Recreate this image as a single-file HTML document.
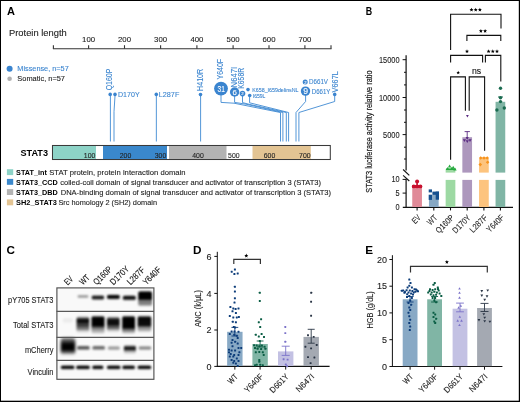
<!DOCTYPE html>
<html><head><meta charset="utf-8"><style>
html,body{margin:0;padding:0;background:#fff;}
svg{display:block;will-change:transform;}
text{font-family:"Liberation Sans", sans-serif;}
</style></head><body>
<svg width="520" height="402" viewBox="0 0 520 402">
<rect x="0" y="0" width="520" height="402" fill="#fff"/>
<text x="7" y="14.7" font-size="11" fill="#000" text-anchor="start" font-weight="bold">A</text>
<text x="9" y="35.8" font-size="9.2" fill="#222" stroke="#222" stroke-width="0.1" text-anchor="start" textLength="57.7" lengthAdjust="spacingAndGlyphs">Protein length</text>
<line x1="52.9" y1="48.7" x2="331.5" y2="48.7" stroke="#333" stroke-width="1.15"/>
<line x1="53.4" y1="45.2" x2="53.4" y2="48.7" stroke="#333" stroke-width="1.1"/>
<line x1="88.6" y1="45.2" x2="88.6" y2="48.7" stroke="#333" stroke-width="1.1"/>
<text x="88.6" y="42.2" font-size="7.8" fill="#222" stroke="#222" stroke-width="0.1" text-anchor="middle" textLength="13.0" lengthAdjust="spacingAndGlyphs">100</text>
<line x1="124.5" y1="45.2" x2="124.5" y2="48.7" stroke="#333" stroke-width="1.1"/>
<text x="124.5" y="42.2" font-size="7.8" fill="#222" stroke="#222" stroke-width="0.1" text-anchor="middle" textLength="13.0" lengthAdjust="spacingAndGlyphs">200</text>
<line x1="160.6" y1="45.2" x2="160.6" y2="48.7" stroke="#333" stroke-width="1.1"/>
<text x="160.6" y="42.2" font-size="7.8" fill="#222" stroke="#222" stroke-width="0.1" text-anchor="middle" textLength="13.0" lengthAdjust="spacingAndGlyphs">300</text>
<line x1="196.9" y1="45.2" x2="196.9" y2="48.7" stroke="#333" stroke-width="1.1"/>
<text x="196.9" y="42.2" font-size="7.8" fill="#222" stroke="#222" stroke-width="0.1" text-anchor="middle" textLength="13.0" lengthAdjust="spacingAndGlyphs">400</text>
<line x1="233.1" y1="45.2" x2="233.1" y2="48.7" stroke="#333" stroke-width="1.1"/>
<text x="233.1" y="42.2" font-size="7.8" fill="#222" stroke="#222" stroke-width="0.1" text-anchor="middle" textLength="13.0" lengthAdjust="spacingAndGlyphs">500</text>
<line x1="269.0" y1="45.2" x2="269.0" y2="48.7" stroke="#333" stroke-width="1.1"/>
<text x="269.0" y="42.2" font-size="7.8" fill="#222" stroke="#222" stroke-width="0.1" text-anchor="middle" textLength="13.0" lengthAdjust="spacingAndGlyphs">600</text>
<line x1="304.9" y1="45.2" x2="304.9" y2="48.7" stroke="#333" stroke-width="1.1"/>
<text x="304.9" y="42.2" font-size="7.8" fill="#222" stroke="#222" stroke-width="0.1" text-anchor="middle" textLength="13.0" lengthAdjust="spacingAndGlyphs">700</text>
<line x1="331.0" y1="45.2" x2="331.0" y2="48.7" stroke="#333" stroke-width="1.1"/>
<circle cx="9.6" cy="68.7" r="3.0" fill="#3a84cf"/>
<circle cx="9.6" cy="78.7" r="2.3" fill="#b0b0b0"/>
<text x="17.3" y="71.0" font-size="7.3" fill="#3a84cf" stroke="#3a84cf" stroke-width="0.1" text-anchor="start" textLength="51.4" lengthAdjust="spacingAndGlyphs">Missense, n=57</text>
<text x="17.3" y="81.2" font-size="7.3" fill="#222" stroke="#222" stroke-width="0.1" text-anchor="start" textLength="47.7" lengthAdjust="spacingAndGlyphs">Somatic, n=57</text>
<polyline points="110.40,94.40 110.40,141.50" fill="none" stroke="#3f8ad2" stroke-width="0.9" stroke-linejoin="miter"/>
<polyline points="115.00,94.40 115.00,96.00 114.00,111.60 114.00,141.50" fill="none" stroke="#3f8ad2" stroke-width="0.9" stroke-linejoin="miter"/>
<polyline points="156.35,94.40 156.35,141.50" fill="none" stroke="#3f8ad2" stroke-width="0.9" stroke-linejoin="miter"/>
<polyline points="200.60,94.60 200.60,141.50" fill="none" stroke="#3f8ad2" stroke-width="0.9" stroke-linejoin="miter"/>
<polyline points="221.00,95.00 221.00,102.40 234.00,103.20 280.50,112.50 280.50,141.50" fill="none" stroke="#3f8ad2" stroke-width="0.9" stroke-linejoin="miter"/>
<polyline points="234.60,96.00 234.60,102.40 246.00,104.20 282.90,112.50 282.90,141.50" fill="none" stroke="#3f8ad2" stroke-width="0.9" stroke-linejoin="miter"/>
<polyline points="242.50,96.00 242.50,102.60 250.00,104.50 286.30,112.50 286.30,141.50" fill="none" stroke="#3f8ad2" stroke-width="0.9" stroke-linejoin="miter"/>
<polyline points="249.60,95.50 249.60,102.80 288.60,112.50 288.60,141.50" fill="none" stroke="#3f8ad2" stroke-width="0.9" stroke-linejoin="miter"/>
<polyline points="305.60,95.00 305.60,101.50 296.00,112.50 296.00,141.50" fill="none" stroke="#3f8ad2" stroke-width="0.9" stroke-linejoin="miter"/>
<polyline points="334.70,94.40 334.70,101.50 298.90,112.50 298.90,141.50" fill="none" stroke="#3f8ad2" stroke-width="0.9" stroke-linejoin="miter"/>
<circle cx="110.2" cy="94.4" r="1.8" fill="#3a84cf"/>
<circle cx="115.0" cy="94.4" r="1.8" fill="#3a84cf"/>
<circle cx="156.3" cy="94.4" r="1.8" fill="#3a84cf"/>
<circle cx="200.5" cy="94.6" r="1.8" fill="#3a84cf"/>
<circle cx="221.0" cy="88.6" r="6.9" fill="#3a84cf"/>
<circle cx="234.6" cy="92.0" r="4.7" fill="#3a84cf"/>
<circle cx="242.5" cy="93.6" r="2.8" fill="#3a84cf"/>
<circle cx="248.0" cy="89.6" r="1.8" fill="#3a84cf"/>
<circle cx="249.7" cy="95.5" r="1.8" fill="#3a84cf"/>
<circle cx="305.2" cy="82.0" r="2.5" fill="#3a84cf"/>
<circle cx="305.5" cy="91.1" r="4.7" fill="#3a84cf"/>
<circle cx="334.7" cy="94.4" r="1.8" fill="#3a84cf"/>
<text x="221.3" y="91.7" font-size="8.4" fill="#fff" stroke="#fff" stroke-width="0.1" text-anchor="middle" textLength="7.4" lengthAdjust="spacingAndGlyphs">31</text>
<text x="234.7" y="95.0" font-size="7.8" fill="#fff" stroke="#fff" stroke-width="0.1" text-anchor="middle">6</text>
<text x="242.5" y="95.3" font-size="4.4" fill="#fff" stroke="#fff" stroke-width="0.1" text-anchor="middle">2</text>
<text x="305.3" y="83.6" font-size="4.2" fill="#fff" stroke="#fff" stroke-width="0.1" text-anchor="middle">2</text>
<text x="305.6" y="94.3" font-size="8.6" fill="#fff" stroke="#fff" stroke-width="0.1" text-anchor="middle">9</text>
<text x="118" y="96.9" font-size="7.8" fill="#3a84cf" stroke="#3a84cf" stroke-width="0.1" text-anchor="start" textLength="21.6" lengthAdjust="spacingAndGlyphs">D170Y</text>
<text x="158.8" y="96.9" font-size="7.8" fill="#3a84cf" stroke="#3a84cf" stroke-width="0.1" text-anchor="start" textLength="20.5" lengthAdjust="spacingAndGlyphs">L287F</text>
<text x="252.3" y="91.6" font-size="5.9" fill="#3a84cf" stroke="#3a84cf" stroke-width="0.1" text-anchor="start" textLength="46.2" lengthAdjust="spacingAndGlyphs">K658_I659delinsNL</text>
<text x="252.8" y="97.8" font-size="5.9" fill="#3a84cf" stroke="#3a84cf" stroke-width="0.1" text-anchor="start" textLength="12.6" lengthAdjust="spacingAndGlyphs">I659L</text>
<text x="309.0" y="84.0" font-size="7.8" fill="#3a84cf" stroke="#3a84cf" stroke-width="0.1" text-anchor="start" textLength="19" lengthAdjust="spacingAndGlyphs">D661V</text>
<text x="311.8" y="93.8" font-size="7.8" fill="#3a84cf" stroke="#3a84cf" stroke-width="0.1" text-anchor="start" textLength="18.6" lengthAdjust="spacingAndGlyphs">D661Y</text>
<text transform="translate(111.89,90.30) rotate(-90)" font-size="8.3" fill="#3a84cf" stroke="#3a84cf" stroke-width="0.1" textLength="21.7" lengthAdjust="spacingAndGlyphs">Q160P</text>
<text transform="translate(202.89,90.90) rotate(-90)" font-size="8.3" fill="#3a84cf" stroke="#3a84cf" stroke-width="0.1" textLength="22.1" lengthAdjust="spacingAndGlyphs">H410R</text>
<text transform="translate(222.79,79.50) rotate(-90)" font-size="8.3" fill="#3a84cf" stroke="#3a84cf" stroke-width="0.1" textLength="20.6" lengthAdjust="spacingAndGlyphs">Y640F</text>
<text transform="translate(237.09,87.40) rotate(-90)" font-size="8.3" fill="#3a84cf" stroke="#3a84cf" stroke-width="0.1" textLength="20.6" lengthAdjust="spacingAndGlyphs">N647I</text>
<text transform="translate(244.39,88.70) rotate(-90)" font-size="8.3" fill="#3a84cf" stroke="#3a84cf" stroke-width="0.1" textLength="20.8" lengthAdjust="spacingAndGlyphs">K658R</text>
<text transform="translate(337.79,92.40) rotate(-90)" font-size="8.3" fill="#3a84cf" stroke="#3a84cf" stroke-width="0.1" textLength="21.2" lengthAdjust="spacingAndGlyphs">V667L</text>
<rect x="52.5" y="145.5" width="277.8" height="14" fill="#fff" stroke="#3a3a3a" stroke-width="1.05"/>
<rect x="53" y="146" width="43" height="13" fill="#8dd3c7"/>
<rect x="103" y="146" width="64" height="13" fill="#3a88cc"/>
<rect x="169" y="146" width="57.5" height="13" fill="#b3b3b3"/>
<rect x="252.5" y="146" width="58.3" height="13" fill="#e3c493"/>
<text x="89.6" y="157.9" font-size="7.3" fill="#222" stroke="#222" stroke-width="0.1" text-anchor="middle" textLength="11.5" lengthAdjust="spacingAndGlyphs">100</text>
<text x="125.5" y="157.9" font-size="7.3" fill="#222" stroke="#222" stroke-width="0.1" text-anchor="middle" textLength="11.5" lengthAdjust="spacingAndGlyphs">200</text>
<text x="160.5" y="157.9" font-size="7.3" fill="#222" stroke="#222" stroke-width="0.1" text-anchor="middle" textLength="11.5" lengthAdjust="spacingAndGlyphs">300</text>
<text x="198" y="157.9" font-size="7.3" fill="#222" stroke="#222" stroke-width="0.1" text-anchor="middle" textLength="11.5" lengthAdjust="spacingAndGlyphs">400</text>
<text x="233.8" y="157.9" font-size="7.3" fill="#222" stroke="#222" stroke-width="0.1" text-anchor="middle" textLength="11.5" lengthAdjust="spacingAndGlyphs">500</text>
<text x="269.5" y="157.9" font-size="7.3" fill="#222" stroke="#222" stroke-width="0.1" text-anchor="middle" textLength="11.5" lengthAdjust="spacingAndGlyphs">600</text>
<text x="304.8" y="157.9" font-size="7.3" fill="#222" stroke="#222" stroke-width="0.1" text-anchor="middle" textLength="11.5" lengthAdjust="spacingAndGlyphs">700</text>
<text x="20.5" y="155.6" font-size="9.9" fill="#000" text-anchor="start" font-weight="bold" textLength="27.5" lengthAdjust="spacingAndGlyphs">STAT3</text>
<rect x="6.9" y="169.2" width="6.3" height="5.9" fill="#8dd3c7"/>
<text x="16.1" y="174.7" font-size="7.3" fill="#000" text-anchor="start" font-weight="bold" textLength="30.8" lengthAdjust="spacingAndGlyphs">STAT_int</text>
<text x="49.2" y="174.7" font-size="7.3" fill="#222" stroke="#222" stroke-width="0.1" text-anchor="start" textLength="136.4" lengthAdjust="spacingAndGlyphs">STAT protein, protein interaction domain</text>
<rect x="6.9" y="178.9" width="6.3" height="5.9" fill="#3a88cc"/>
<text x="16.1" y="184.6" font-size="7.3" fill="#000" text-anchor="start" font-weight="bold" textLength="41.7" lengthAdjust="spacingAndGlyphs">STAT3_CCD</text>
<text x="60.2" y="184.6" font-size="7.3" fill="#222" stroke="#222" stroke-width="0.1" text-anchor="start" textLength="260.9" lengthAdjust="spacingAndGlyphs">coiled-coil domain of signal transducer and activator of transcription 3 (STAT3)</text>
<rect x="6.9" y="189.1" width="6.3" height="5.9" fill="#b3b3b3"/>
<text x="16.1" y="194.8" font-size="7.3" fill="#000" text-anchor="start" font-weight="bold" textLength="41.7" lengthAdjust="spacingAndGlyphs">STAT3_DBD</text>
<text x="60.7" y="194.8" font-size="7.3" fill="#222" stroke="#222" stroke-width="0.1" text-anchor="start" textLength="270.3" lengthAdjust="spacingAndGlyphs">DNA-binding domain of signal transducer and activator of transcription 3 (STAT3)</text>
<rect x="6.9" y="199.4" width="6.3" height="5.9" fill="#e3c493"/>
<text x="16.1" y="204.7" font-size="7.3" fill="#000" text-anchor="start" font-weight="bold" textLength="40.8" lengthAdjust="spacingAndGlyphs">SH2_STAT3</text>
<text x="58.4" y="204.7" font-size="7.3" fill="#222" stroke="#222" stroke-width="0.1" text-anchor="start" textLength="98.6" lengthAdjust="spacingAndGlyphs">Src homology 2 (SH2) domain</text>
<text x="365.8" y="15.1" font-size="11" fill="#000" text-anchor="start" font-weight="bold" textLength="6.4" lengthAdjust="spacingAndGlyphs">B</text>
<line x1="406.1" y1="55.2" x2="406.1" y2="170.6" stroke="#111" stroke-width="1.2"/>
<line x1="406.1" y1="179.0" x2="406.1" y2="207.7" stroke="#111" stroke-width="1.2"/>
<line x1="402.6" y1="59.7" x2="406.1" y2="59.7" stroke="#111" stroke-width="1"/>
<line x1="402.6" y1="97.5" x2="406.1" y2="97.5" stroke="#111" stroke-width="1"/>
<line x1="402.6" y1="134.6" x2="406.1" y2="134.6" stroke="#111" stroke-width="1"/>
<line x1="404.0" y1="72.3" x2="406.1" y2="72.3" stroke="#111" stroke-width="1"/>
<line x1="404.0" y1="84.9" x2="406.1" y2="84.9" stroke="#111" stroke-width="1"/>
<line x1="404.0" y1="110.0" x2="406.1" y2="110.0" stroke="#111" stroke-width="1"/>
<line x1="404.0" y1="122.3" x2="406.1" y2="122.3" stroke="#111" stroke-width="1"/>
<line x1="404.0" y1="147.2" x2="406.1" y2="147.2" stroke="#111" stroke-width="1"/>
<line x1="404.0" y1="159.0" x2="406.1" y2="159.0" stroke="#111" stroke-width="1"/>
<line x1="402.6" y1="179.4" x2="406.1" y2="179.4" stroke="#111" stroke-width="1"/>
<line x1="402.6" y1="193.1" x2="406.1" y2="193.1" stroke="#111" stroke-width="1"/>
<line x1="403.1" y1="169.5" x2="409.3" y2="175.4" stroke="#111" stroke-width="1.1"/>
<line x1="403.1" y1="175.4" x2="409.3" y2="181.0" stroke="#111" stroke-width="1.1"/>
<text x="399.6" y="62.7" font-size="8.4" fill="#222" stroke="#222" stroke-width="0.1" text-anchor="end" textLength="20.6" lengthAdjust="spacingAndGlyphs">15000</text>
<text x="399.6" y="100.5" font-size="8.4" fill="#222" stroke="#222" stroke-width="0.1" text-anchor="end" textLength="20.6" lengthAdjust="spacingAndGlyphs">10000</text>
<text x="399.6" y="137.6" font-size="8.4" fill="#222" stroke="#222" stroke-width="0.1" text-anchor="end" textLength="16.5" lengthAdjust="spacingAndGlyphs">5000</text>
<text x="399.6" y="182.0" font-size="8.4" fill="#222" stroke="#222" stroke-width="0.1" text-anchor="end" textLength="8.2" lengthAdjust="spacingAndGlyphs">10</text>
<text x="399.6" y="196.1" font-size="8.4" fill="#222" stroke="#222" stroke-width="0.1" text-anchor="end" textLength="4.1" lengthAdjust="spacingAndGlyphs">5</text>
<text x="399.6" y="209.7" font-size="8.4" fill="#222" stroke="#222" stroke-width="0.1" text-anchor="end" textLength="4.1" lengthAdjust="spacingAndGlyphs">0</text>
<text transform="translate(372.15,192.70) rotate(-90)" font-size="9.3" fill="#222" stroke="#222" stroke-width="0.22" textLength="122.3" lengthAdjust="spacingAndGlyphs">STAT3 luciferase activity relative ratio</text>
<line x1="402.8" y1="207.3" x2="513" y2="207.3" stroke="#111" stroke-width="1.2"/>
<line x1="417.1" y1="207.3" x2="417.1" y2="210.4" stroke="#111" stroke-width="1.1"/>
<line x1="433.8" y1="207.3" x2="433.8" y2="210.4" stroke="#111" stroke-width="1.1"/>
<line x1="450.5" y1="207.3" x2="450.5" y2="210.4" stroke="#111" stroke-width="1.1"/>
<line x1="467.2" y1="207.3" x2="467.2" y2="210.4" stroke="#111" stroke-width="1.1"/>
<line x1="483.9" y1="207.3" x2="483.9" y2="210.4" stroke="#111" stroke-width="1.1"/>
<line x1="500.4" y1="207.3" x2="500.4" y2="210.4" stroke="#111" stroke-width="1.1"/>
<text transform="translate(421.10,218.30) rotate(-45)" font-size="8.5" fill="#222" stroke="#222" stroke-width="0.1" text-anchor="end" textLength="8.4" lengthAdjust="spacingAndGlyphs">EV</text>
<text transform="translate(437.80,218.30) rotate(-45)" font-size="8.5" fill="#222" stroke="#222" stroke-width="0.1" text-anchor="end" textLength="10.4" lengthAdjust="spacingAndGlyphs">WT</text>
<text transform="translate(454.50,218.30) rotate(-45)" font-size="8.5" fill="#222" stroke="#222" stroke-width="0.1" text-anchor="end" textLength="21.8" lengthAdjust="spacingAndGlyphs">Q160P</text>
<text transform="translate(471.20,218.30) rotate(-45)" font-size="8.5" fill="#222" stroke="#222" stroke-width="0.1" text-anchor="end" textLength="21.8" lengthAdjust="spacingAndGlyphs">D170Y</text>
<text transform="translate(487.90,218.30) rotate(-45)" font-size="8.5" fill="#222" stroke="#222" stroke-width="0.1" text-anchor="end" textLength="21.0" lengthAdjust="spacingAndGlyphs">L287F</text>
<text transform="translate(504.40,218.30) rotate(-45)" font-size="8.5" fill="#222" stroke="#222" stroke-width="0.1" text-anchor="end" textLength="20.6" lengthAdjust="spacingAndGlyphs">Y640F</text>
<rect x="412.25" y="188.0" width="9.7" height="19.0" fill="#e08a98"/>
<rect x="428.95" y="195.0" width="9.7" height="12.0" fill="#87a8c4"/>
<rect x="445.65" y="179.9" width="9.7" height="27.099999999999994" fill="#9dd9a3"/>
<rect x="445.65" y="169.2" width="9.7" height="3.4000000000000057" fill="#9dd9a3"/>
<rect x="462.34999999999997" y="179.9" width="9.7" height="27.099999999999994" fill="#ad97bd"/>
<rect x="462.34999999999997" y="137.2" width="9.7" height="35.400000000000006" fill="#ad97bd"/>
<rect x="479.04999999999995" y="179.9" width="9.7" height="27.099999999999994" fill="#fdc47e"/>
<rect x="479.04999999999995" y="158.5" width="9.7" height="14.099999999999994" fill="#fdc47e"/>
<rect x="495.54999999999995" y="179.9" width="9.7" height="27.099999999999994" fill="#80b5a5"/>
<rect x="495.54999999999995" y="101.8" width="9.7" height="70.8" fill="#80b5a5"/>
<circle cx="413.8" cy="186.4" r="1.95" fill="#c8102e"/>
<circle cx="417.1" cy="186.4" r="1.95" fill="#c8102e"/>
<circle cx="420.40000000000003" cy="186.4" r="1.95" fill="#c8102e"/>
<line x1="417.1" y1="182" x2="417.1" y2="186.5" stroke="#c8102e" stroke-width="1.6"/>
<circle cx="417.1" cy="181.6" r="2.0" fill="#c8102e"/>
<rect x="412.0" y="185.0" width="10.0" height="2.9" fill="#c8102e" rx="1"/>
<rect x="428.7" y="189.4" width="3.3" height="3.0" fill="#15508f"/>
<rect x="432.4" y="191.6" width="6.6" height="3.3" fill="#15508f"/>
<rect x="428.7" y="194.7" width="3.3" height="5.2" fill="#15508f"/>
<rect x="435.7" y="191.6" width="3.3" height="8.1" fill="#15508f"/>
<polygon points="445.90,170.08 449.30,170.08 447.60,167.12" fill="#26aa3e"/>
<polygon points="447.90,167.48 451.30,167.48 449.60,164.52" fill="#26aa3e"/>
<polygon points="450.10,169.68 453.50,169.68 451.80,166.72" fill="#26aa3e"/>
<polygon points="451.50,168.68 454.90,168.68 453.20,165.72" fill="#26aa3e"/>
<polygon points="453.30,170.48 456.70,170.48 455.00,167.52" fill="#26aa3e"/>
<rect x="446.2" y="168.4" width="9.2" height="1.6" fill="#26aa3e"/>
<line x1="467.2" y1="131.6" x2="467.2" y2="139" stroke="#5b2c83" stroke-width="0.9"/>
<line x1="464.6" y1="131.6" x2="469.9" y2="131.6" stroke="#5b2c83" stroke-width="0.9"/>
<polygon points="462.80,139.21 466.00,139.21 464.40,141.99" fill="#5b2c83"/>
<polygon points="465.60,137.01 468.80,137.01 467.20,139.79" fill="#5b2c83"/>
<polygon points="468.40,139.21 471.60,139.21 470.00,141.99" fill="#5b2c83"/>
<polygon points="465.70,140.21 468.90,140.21 467.30,142.99" fill="#5b2c83"/>
<polygon points="466.00,114.98 468.80,114.98 467.40,117.42" fill="#5b2c83"/>
<polygon points="480.7,156.2 482.5,158.0 480.7,159.8 478.9,158.0" fill="#f7941d"/>
<polygon points="484.0,156.2 485.8,158.0 484.0,159.8 482.2,158.0" fill="#f7941d"/>
<polygon points="487.2,156.2 489.0,158.0 487.2,159.8 485.4,158.0" fill="#f7941d"/>
<polygon points="480.3,162.79999999999998 482.1,164.6 480.3,166.4 478.5,164.6" fill="#f7941d"/>
<polygon points="487.6,160.39999999999998 489.40000000000003,162.2 487.6,164.0 485.8,162.2" fill="#f7941d"/>
<line x1="480.7" y1="158" x2="487.2" y2="158" stroke="#f7941d" stroke-width="0.9"/>
<circle cx="500.5" cy="88.2" r="1.7" fill="#1a6b50"/>
<circle cx="500.5" cy="97.7" r="1.7" fill="#1a6b50"/>
<circle cx="500.5" cy="101.6" r="1.7" fill="#1a6b50"/>
<circle cx="496.9" cy="110.0" r="1.7" fill="#1a6b50"/>
<circle cx="504.3" cy="108.0" r="1.7" fill="#1a6b50"/>
<line x1="498.0" y1="97.0" x2="503.0" y2="97.0" stroke="#1a6b50" stroke-width="1"/>
<polyline points="450.6,50.0 450.6,14.3 501.0,14.3 501.0,28.5" fill="none" stroke="#111" stroke-width="1.1"/>
<polygon points="471.50,7.70 472.06,9.04 473.50,9.15 472.40,10.09 472.73,11.50 471.50,10.75 470.27,11.50 470.60,10.09 469.50,9.15 470.94,9.04" fill="#000"/>
<polygon points="475.70,7.70 476.26,9.04 477.70,9.15 476.60,10.09 476.93,11.50 475.70,10.75 474.47,11.50 474.80,10.09 473.70,9.15 475.14,9.04" fill="#000"/>
<polygon points="479.90,7.70 480.46,9.04 481.90,9.15 480.80,10.09 481.13,11.50 479.90,10.75 478.67,11.50 479.00,10.09 477.90,9.15 479.34,9.04" fill="#000"/>
<polyline points="466.9,40.9 466.9,35.4 500.8,35.4 500.8,40.9" fill="none" stroke="#111" stroke-width="1.1"/>
<polygon points="480.90,28.90 481.46,30.24 482.90,30.35 481.80,31.29 482.13,32.70 480.90,31.95 479.67,32.70 480.00,31.29 478.90,30.35 480.34,30.24" fill="#000"/>
<polygon points="485.10,28.90 485.66,30.24 487.10,30.35 486.00,31.29 486.33,32.70 485.10,31.95 483.87,32.70 484.20,31.29 483.10,30.35 484.54,30.24" fill="#000"/>
<polyline points="450.6,62.4 450.6,55.4 482.6,55.4 482.6,62.4" fill="none" stroke="#111" stroke-width="1.1"/>
<polygon points="467.00,49.30 467.56,50.64 469.00,50.75 467.90,51.69 468.23,53.10 467.00,52.34 465.77,53.10 466.10,51.69 465.00,50.75 466.44,50.64" fill="#000"/>
<polyline points="485.4,62.4 485.4,55.4 500.8,55.4 500.8,81.5" fill="none" stroke="#111" stroke-width="1.1"/>
<polygon points="488.60,49.30 489.16,50.64 490.60,50.75 489.50,51.69 489.83,53.10 488.60,52.34 487.37,53.10 487.70,51.69 486.60,50.75 488.04,50.64" fill="#000"/>
<polygon points="492.80,49.30 493.36,50.64 494.80,50.75 493.70,51.69 494.03,53.10 492.80,52.34 491.57,53.10 491.90,51.69 490.80,50.75 492.24,50.64" fill="#000"/>
<polygon points="497.00,49.30 497.56,50.64 499.00,50.75 497.90,51.69 498.23,53.10 497.00,52.34 495.77,53.10 496.10,51.69 495.00,50.75 496.44,50.64" fill="#000"/>
<polyline points="450.6,159.7 450.6,76.9 465.4,76.9 465.4,110.8" fill="none" stroke="#111" stroke-width="1.1"/>
<polygon points="458.20,70.70 458.70,71.91 460.01,72.01 459.01,72.86 459.32,74.14 458.20,73.45 457.08,74.14 457.39,72.86 456.39,72.01 457.70,71.91" fill="#000"/>
<polyline points="469.2,110.8 469.2,76.9 484.6,76.9 484.6,150.8" fill="none" stroke="#111" stroke-width="1.1"/>
<text x="476.6" y="74.0" font-size="8.2" fill="#111" stroke="#111" stroke-width="0.1" text-anchor="middle" textLength="9.2" lengthAdjust="spacingAndGlyphs">ns</text>
<text x="6.5" y="253.8" font-size="11.7" fill="#000" text-anchor="start" font-weight="bold">C</text>
<defs><filter id="bl" x="-30%" y="-60%" width="160%" height="220%"><feGaussianBlur stdDeviation="1.1 0.8"/></filter><filter id="bl2" x="-30%" y="-60%" width="160%" height="220%"><feGaussianBlur stdDeviation="1.4"/></filter></defs>
<rect x="56.5" y="287.5" width="97.5" height="92" fill="#f9f9f9"/>
<linearGradient id="g1" gradientUnits="userSpaceOnUse" x1="0" y1="294.6" x2="0" y2="298.4"><stop offset="0.000" stop-color="#000" stop-opacity="0"/><stop offset="0.316" stop-color="#000" stop-opacity="0.42"/><stop offset="0.632" stop-color="#000" stop-opacity="0.42"/><stop offset="1.000" stop-color="#000" stop-opacity="0"/></linearGradient>
<rect x="77.60" y="294.60" width="10.8" height="3.80" rx="3" fill="url(#g1)" filter="url(#bl)"/>
<linearGradient id="g2" gradientUnits="userSpaceOnUse" x1="0" y1="294.8" x2="0" y2="300.4"><stop offset="0.000" stop-color="#000" stop-opacity="0"/><stop offset="0.286" stop-color="#000" stop-opacity="0.88"/><stop offset="0.679" stop-color="#000" stop-opacity="0.88"/><stop offset="1.000" stop-color="#000" stop-opacity="0"/></linearGradient>
<rect x="91.70" y="294.80" width="12.4" height="5.60" rx="3" fill="url(#g2)" filter="url(#bl)"/>
<linearGradient id="g3" gradientUnits="userSpaceOnUse" x1="0" y1="294.2" x2="0" y2="299.8"><stop offset="0.000" stop-color="#000" stop-opacity="0"/><stop offset="0.250" stop-color="#000" stop-opacity="1"/><stop offset="0.714" stop-color="#000" stop-opacity="1"/><stop offset="1.000" stop-color="#000" stop-opacity="0"/></linearGradient>
<rect x="107.00" y="294.20" width="12.8" height="5.60" rx="3" fill="url(#g3)" filter="url(#bl)"/>
<linearGradient id="g4" gradientUnits="userSpaceOnUse" x1="0" y1="295.0" x2="0" y2="300.8"><stop offset="0.000" stop-color="#000" stop-opacity="0"/><stop offset="0.276" stop-color="#000" stop-opacity="0.95"/><stop offset="0.690" stop-color="#000" stop-opacity="0.95"/><stop offset="1.000" stop-color="#000" stop-opacity="0"/></linearGradient>
<rect x="122.80" y="295.00" width="13.0" height="5.80" rx="3" fill="url(#g4)" filter="url(#bl)"/>
<linearGradient id="g5" gradientUnits="userSpaceOnUse" x1="0" y1="290.8" x2="0" y2="306.6"><stop offset="0.000" stop-color="#000" stop-opacity="0.2"/><stop offset="0.089" stop-color="#000" stop-opacity="1"/><stop offset="0.532" stop-color="#000" stop-opacity="1"/><stop offset="0.620" stop-color="#000" stop-opacity="0.45"/><stop offset="0.722" stop-color="#000" stop-opacity="0.6"/><stop offset="0.810" stop-color="#000" stop-opacity="0.4"/><stop offset="0.880" stop-color="#000" stop-opacity="0.5"/><stop offset="1.000" stop-color="#000" stop-opacity="0"/></linearGradient>
<rect x="138.20" y="290.80" width="13.8" height="15.80" rx="3" fill="url(#g5)" filter="url(#bl)"/>
<linearGradient id="g6" gradientUnits="userSpaceOnUse" x1="0" y1="317" x2="0" y2="324"><stop offset="0.000" stop-color="#000" stop-opacity="0"/><stop offset="0.429" stop-color="#000" stop-opacity="0.07"/><stop offset="1.000" stop-color="#000" stop-opacity="0"/></linearGradient>
<rect x="62.80" y="317.00" width="10" height="7.00" rx="3" fill="url(#g6)" filter="url(#bl)"/>
<linearGradient id="g7" gradientUnits="userSpaceOnUse" x1="0" y1="316.0" x2="0" y2="333.5"><stop offset="0.000" stop-color="#000" stop-opacity="0"/><stop offset="0.114" stop-color="#000" stop-opacity="0.55"/><stop offset="0.200" stop-color="#000" stop-opacity="0.95"/><stop offset="0.389" stop-color="#000" stop-opacity="0.95"/><stop offset="0.457" stop-color="#000" stop-opacity="0.65"/><stop offset="0.549" stop-color="#000" stop-opacity="0.85"/><stop offset="0.651" stop-color="#000" stop-opacity="0.5"/><stop offset="0.720" stop-color="#000" stop-opacity="0.6"/><stop offset="0.857" stop-color="#000" stop-opacity="0.15"/><stop offset="1.000" stop-color="#000" stop-opacity="0"/></linearGradient>
<rect x="76.55" y="316.00" width="12.7" height="17.50" rx="3" fill="url(#g7)" filter="url(#bl)"/>
<linearGradient id="g8" gradientUnits="userSpaceOnUse" x1="0" y1="315.4" x2="0" y2="334.3"><stop offset="0.000" stop-color="#000" stop-opacity="0"/><stop offset="0.074" stop-color="#000" stop-opacity="0.8"/><stop offset="0.138" stop-color="#000" stop-opacity="1"/><stop offset="0.534" stop-color="#000" stop-opacity="1"/><stop offset="0.614" stop-color="#000" stop-opacity="0.7"/><stop offset="0.693" stop-color="#000" stop-opacity="0.5"/><stop offset="0.772" stop-color="#000" stop-opacity="0.35"/><stop offset="0.852" stop-color="#000" stop-opacity="0.3"/><stop offset="1.000" stop-color="#000" stop-opacity="0"/></linearGradient>
<rect x="91.45" y="315.40" width="13.1" height="18.90" rx="3" fill="url(#g8)" filter="url(#bl)"/>
<linearGradient id="g9" gradientUnits="userSpaceOnUse" x1="0" y1="316.2" x2="0" y2="332.4"><stop offset="0.000" stop-color="#000" stop-opacity="0"/><stop offset="0.111" stop-color="#000" stop-opacity="0.6"/><stop offset="0.222" stop-color="#000" stop-opacity="0.95"/><stop offset="0.531" stop-color="#000" stop-opacity="0.95"/><stop offset="0.617" stop-color="#000" stop-opacity="0.6"/><stop offset="0.704" stop-color="#000" stop-opacity="0.7"/><stop offset="0.802" stop-color="#000" stop-opacity="0.35"/><stop offset="1.000" stop-color="#000" stop-opacity="0"/></linearGradient>
<rect x="106.95" y="316.20" width="12.7" height="16.20" rx="3" fill="url(#g9)" filter="url(#bl)"/>
<linearGradient id="g10" gradientUnits="userSpaceOnUse" x1="0" y1="315.4" x2="0" y2="334.3"><stop offset="0.000" stop-color="#000" stop-opacity="0"/><stop offset="0.074" stop-color="#000" stop-opacity="0.85"/><stop offset="0.138" stop-color="#000" stop-opacity="1"/><stop offset="0.640" stop-color="#000" stop-opacity="1"/><stop offset="0.720" stop-color="#000" stop-opacity="0.65"/><stop offset="0.804" stop-color="#000" stop-opacity="0.5"/><stop offset="0.878" stop-color="#000" stop-opacity="0.3"/><stop offset="1.000" stop-color="#000" stop-opacity="0"/></linearGradient>
<rect x="122.15" y="315.40" width="12.9" height="18.90" rx="3" fill="url(#g10)" filter="url(#bl)"/>
<linearGradient id="g11" gradientUnits="userSpaceOnUse" x1="0" y1="315.4" x2="0" y2="332.6"><stop offset="0.000" stop-color="#000" stop-opacity="0"/><stop offset="0.081" stop-color="#000" stop-opacity="0.8"/><stop offset="0.151" stop-color="#000" stop-opacity="0.98"/><stop offset="0.587" stop-color="#000" stop-opacity="0.95"/><stop offset="0.674" stop-color="#000" stop-opacity="0.5"/><stop offset="0.767" stop-color="#000" stop-opacity="0.4"/><stop offset="0.860" stop-color="#000" stop-opacity="0.3"/><stop offset="1.000" stop-color="#000" stop-opacity="0"/></linearGradient>
<rect x="137.60" y="315.40" width="13.6" height="17.20" rx="3" fill="url(#g11)" filter="url(#bl)"/>
<linearGradient id="g12" gradientUnits="userSpaceOnUse" x1="0" y1="337.8" x2="0" y2="355.0"><stop offset="0.000" stop-color="#000" stop-opacity="0.5"/><stop offset="0.157" stop-color="#000" stop-opacity="0.62"/><stop offset="0.302" stop-color="#000" stop-opacity="0.9"/><stop offset="0.390" stop-color="#000" stop-opacity="1"/><stop offset="0.698" stop-color="#000" stop-opacity="1"/><stop offset="0.779" stop-color="#000" stop-opacity="0.75"/><stop offset="0.884" stop-color="#000" stop-opacity="0.5"/><stop offset="1.000" stop-color="#000" stop-opacity="0"/></linearGradient>
<rect x="60.70" y="337.80" width="14.6" height="17.20" rx="3" fill="url(#g12)" filter="url(#bl2)"/>
<linearGradient id="g13" gradientUnits="userSpaceOnUse" x1="0" y1="345.4" x2="0" y2="350.4"><stop offset="0.000" stop-color="#000" stop-opacity="0"/><stop offset="0.240" stop-color="#000" stop-opacity="0.66"/><stop offset="0.680" stop-color="#000" stop-opacity="0.66"/><stop offset="1.000" stop-color="#000" stop-opacity="0"/></linearGradient>
<rect x="77.10" y="345.40" width="12.6" height="5.00" rx="3" fill="url(#g13)" filter="url(#bl)"/>
<linearGradient id="g14" gradientUnits="userSpaceOnUse" x1="0" y1="345.4" x2="0" y2="350.4"><stop offset="0.000" stop-color="#000" stop-opacity="0"/><stop offset="0.240" stop-color="#000" stop-opacity="0.58"/><stop offset="0.680" stop-color="#000" stop-opacity="0.58"/><stop offset="1.000" stop-color="#000" stop-opacity="0"/></linearGradient>
<rect x="92.40" y="345.40" width="12.6" height="5.00" rx="3" fill="url(#g14)" filter="url(#bl)"/>
<linearGradient id="g15" gradientUnits="userSpaceOnUse" x1="0" y1="345.8" x2="0" y2="350.6"><stop offset="0.000" stop-color="#000" stop-opacity="0"/><stop offset="0.250" stop-color="#000" stop-opacity="0.38"/><stop offset="0.667" stop-color="#000" stop-opacity="0.38"/><stop offset="1.000" stop-color="#000" stop-opacity="0"/></linearGradient>
<rect x="107.90" y="345.80" width="11.8" height="4.80" rx="3" fill="url(#g15)" filter="url(#bl)"/>
<linearGradient id="g16" gradientUnits="userSpaceOnUse" x1="0" y1="344.6" x2="0" y2="354.5"><stop offset="0.000" stop-color="#000" stop-opacity="0"/><stop offset="0.303" stop-color="#000" stop-opacity="0.97"/><stop offset="0.545" stop-color="#000" stop-opacity="0.8"/><stop offset="0.646" stop-color="#000" stop-opacity="0.3"/><stop offset="0.798" stop-color="#000" stop-opacity="0.2"/><stop offset="1.000" stop-color="#000" stop-opacity="0"/></linearGradient>
<rect x="123.90" y="344.60" width="12.0" height="9.90" rx="3" fill="url(#g16)" filter="url(#bl)"/>
<linearGradient id="g17" gradientUnits="userSpaceOnUse" x1="0" y1="345.8" x2="0" y2="350.4"><stop offset="0.000" stop-color="#000" stop-opacity="0"/><stop offset="0.261" stop-color="#000" stop-opacity="0.46"/><stop offset="0.696" stop-color="#000" stop-opacity="0.46"/><stop offset="1.000" stop-color="#000" stop-opacity="0"/></linearGradient>
<rect x="138.60" y="345.80" width="12.6" height="4.60" rx="3" fill="url(#g17)" filter="url(#bl)"/>
<linearGradient id="g18" gradientUnits="userSpaceOnUse" x1="0" y1="365.0" x2="0" y2="369.8"><stop offset="0.000" stop-color="#000" stop-opacity="0"/><stop offset="0.271" stop-color="#000" stop-opacity="1"/><stop offset="0.688" stop-color="#000" stop-opacity="1"/><stop offset="1.000" stop-color="#000" stop-opacity="0"/></linearGradient>
<rect x="60.85" y="365.00" width="13.5" height="4.80" rx="3" fill="url(#g18)" filter="url(#bl)"/>
<linearGradient id="g19" gradientUnits="userSpaceOnUse" x1="0" y1="365.0" x2="0" y2="369.8"><stop offset="0.000" stop-color="#000" stop-opacity="0"/><stop offset="0.271" stop-color="#000" stop-opacity="1"/><stop offset="0.688" stop-color="#000" stop-opacity="1"/><stop offset="1.000" stop-color="#000" stop-opacity="0"/></linearGradient>
<rect x="76.25" y="365.00" width="13.5" height="4.80" rx="3" fill="url(#g19)" filter="url(#bl)"/>
<linearGradient id="g20" gradientUnits="userSpaceOnUse" x1="0" y1="365.0" x2="0" y2="369.8"><stop offset="0.000" stop-color="#000" stop-opacity="0"/><stop offset="0.271" stop-color="#000" stop-opacity="1"/><stop offset="0.688" stop-color="#000" stop-opacity="1"/><stop offset="1.000" stop-color="#000" stop-opacity="0"/></linearGradient>
<rect x="92.30" y="365.00" width="11" height="4.80" rx="3" fill="url(#g20)" filter="url(#bl)"/>
<linearGradient id="g21" gradientUnits="userSpaceOnUse" x1="0" y1="365.0" x2="0" y2="369.8"><stop offset="0.000" stop-color="#000" stop-opacity="0"/><stop offset="0.271" stop-color="#000" stop-opacity="1"/><stop offset="0.688" stop-color="#000" stop-opacity="1"/><stop offset="1.000" stop-color="#000" stop-opacity="0"/></linearGradient>
<rect x="107.00" y="365.00" width="13.4" height="4.80" rx="3" fill="url(#g21)" filter="url(#bl)"/>
<linearGradient id="g22" gradientUnits="userSpaceOnUse" x1="0" y1="365.0" x2="0" y2="369.8"><stop offset="0.000" stop-color="#000" stop-opacity="0"/><stop offset="0.271" stop-color="#000" stop-opacity="1"/><stop offset="0.688" stop-color="#000" stop-opacity="1"/><stop offset="1.000" stop-color="#000" stop-opacity="0"/></linearGradient>
<rect x="122.35" y="365.00" width="12.5" height="4.80" rx="3" fill="url(#g22)" filter="url(#bl)"/>
<linearGradient id="g23" gradientUnits="userSpaceOnUse" x1="0" y1="365.0" x2="0" y2="369.8"><stop offset="0.000" stop-color="#000" stop-opacity="0"/><stop offset="0.271" stop-color="#000" stop-opacity="1"/><stop offset="0.688" stop-color="#000" stop-opacity="1"/><stop offset="1.000" stop-color="#000" stop-opacity="0"/></linearGradient>
<rect x="137.65" y="365.00" width="13.5" height="4.80" rx="3" fill="url(#g23)" filter="url(#bl)"/>
<rect x="56.9" y="287.9" width="97.0" height="91.4" fill="none" stroke="#505050" stroke-width="1.15"/>
<line x1="56.5" y1="311.4" x2="154.0" y2="311.4" stroke="#585858" stroke-width="1.15"/>
<line x1="56.5" y1="337.4" x2="154.0" y2="337.4" stroke="#585858" stroke-width="1.15"/>
<line x1="56.5" y1="360.4" x2="154.0" y2="360.4" stroke="#585858" stroke-width="1.15"/>
<text x="53.5" y="302.5" font-size="8.3" fill="#222" stroke="#222" stroke-width="0.1" text-anchor="end" textLength="45.4" lengthAdjust="spacingAndGlyphs">pY705 STAT3</text>
<text x="53.5" y="327.6" font-size="8.3" fill="#222" stroke="#222" stroke-width="0.1" text-anchor="end" textLength="40.4" lengthAdjust="spacingAndGlyphs">Total STAT3</text>
<text x="53.5" y="353.1" font-size="8.3" fill="#222" stroke="#222" stroke-width="0.1" text-anchor="end" textLength="28.6" lengthAdjust="spacingAndGlyphs">mCherry</text>
<text x="53.5" y="375.1" font-size="8.3" fill="#222" stroke="#222" stroke-width="0.1" text-anchor="end" textLength="25.9" lengthAdjust="spacingAndGlyphs">Vinculin</text>
<text transform="translate(67.80,285.60) rotate(-45)" font-size="9.0" fill="#111" stroke="#111" stroke-width="0.1" textLength="8.4" lengthAdjust="spacingAndGlyphs">EV</text>
<text transform="translate(83.00,285.60) rotate(-45)" font-size="9.0" fill="#111" stroke="#111" stroke-width="0.1" textLength="10.4" lengthAdjust="spacingAndGlyphs">WT</text>
<text transform="translate(96.80,285.60) rotate(-45)" font-size="9.0" fill="#111" stroke="#111" stroke-width="0.1" textLength="22.4" lengthAdjust="spacingAndGlyphs">Q160P</text>
<text transform="translate(113.60,285.60) rotate(-45)" font-size="9.0" fill="#111" stroke="#111" stroke-width="0.1" textLength="22.9" lengthAdjust="spacingAndGlyphs">D170Y</text>
<text transform="translate(130.40,285.60) rotate(-45)" font-size="9.0" fill="#111" stroke="#111" stroke-width="0.1" textLength="21.4" lengthAdjust="spacingAndGlyphs">L287F</text>
<text transform="translate(146.40,285.60) rotate(-45)" font-size="9.0" fill="#111" stroke="#111" stroke-width="0.1" textLength="21.4" lengthAdjust="spacingAndGlyphs">Y640F</text>
<text x="193.0" y="253.7" font-size="11.7" fill="#000" text-anchor="start" font-weight="bold">D</text>
<line x1="217.3" y1="251.8" x2="217.3" y2="366.9" stroke="#111" stroke-width="1"/>
<line x1="214.3" y1="256.4" x2="217.3" y2="256.4" stroke="#111" stroke-width="1"/>
<text x="211.5" y="259.59999999999997" font-size="9.0" fill="#222" stroke="#222" stroke-width="0.1" text-anchor="end">6</text>
<line x1="214.3" y1="293.4" x2="217.3" y2="293.4" stroke="#111" stroke-width="1"/>
<text x="211.5" y="296.59999999999997" font-size="9.0" fill="#222" stroke="#222" stroke-width="0.1" text-anchor="end">4</text>
<line x1="214.3" y1="330.0" x2="217.3" y2="330.0" stroke="#111" stroke-width="1"/>
<text x="211.5" y="333.2" font-size="9.0" fill="#222" stroke="#222" stroke-width="0.1" text-anchor="end">2</text>
<line x1="214.3" y1="366.4" x2="217.3" y2="366.4" stroke="#111" stroke-width="1"/>
<text x="211.5" y="369.59999999999997" font-size="9.0" fill="#222" stroke="#222" stroke-width="0.1" text-anchor="end">0</text>
<text transform="translate(201.00,327.00) rotate(-90)" font-size="8.6" fill="#222" stroke="#222" stroke-width="0.1" textLength="37.0" lengthAdjust="spacingAndGlyphs">ANC (k/μL)</text>
<line x1="216.8" y1="366.4" x2="329.6" y2="366.4" stroke="#111" stroke-width="1.1"/>
<line x1="234.85" y1="366.4" x2="234.85" y2="369.6" stroke="#111" stroke-width="1"/>
<line x1="260.1" y1="366.4" x2="260.1" y2="369.6" stroke="#111" stroke-width="1"/>
<line x1="285.7" y1="366.4" x2="285.7" y2="369.6" stroke="#111" stroke-width="1"/>
<line x1="311.2" y1="366.4" x2="311.2" y2="369.6" stroke="#111" stroke-width="1"/>
<rect x="227.15" y="331.8" width="15.4" height="34.19999999999999" fill="#88a9c5"/>
<rect x="252.40000000000003" y="344.0" width="15.4" height="22.0" fill="#80b5a5"/>
<rect x="278.0" y="351.4" width="15.4" height="14.600000000000023" fill="#c3c1e3"/>
<rect x="303.5" y="336.9" width="15.4" height="29.100000000000023" fill="#a4a9b2"/>
<rect x="233.9" y="268.5" width="2.0" height="2.0" fill="#0d3d7a" rx="0.35"/>
<rect x="230.7" y="270.7" width="2.0" height="2.0" fill="#0d3d7a" rx="0.35"/>
<rect x="233.4" y="273.0" width="2.0" height="2.0" fill="#0d3d7a" rx="0.35"/>
<rect x="236.7" y="272.4" width="2.0" height="2.0" fill="#0d3d7a" rx="0.35"/>
<rect x="233.9" y="285.8" width="2.0" height="2.0" fill="#0d3d7a" rx="0.35"/>
<rect x="233.9" y="290.6" width="2.0" height="2.0" fill="#0d3d7a" rx="0.35"/>
<rect x="233.9" y="297.3" width="2.0" height="2.0" fill="#0d3d7a" rx="0.35"/>
<rect x="233.5" y="301.6" width="2.0" height="2.0" fill="#0d3d7a" rx="0.35"/>
<rect x="229.4" y="306.0" width="2.0" height="2.0" fill="#0d3d7a" rx="0.35"/>
<rect x="232.3" y="307.4" width="2.0" height="2.0" fill="#0d3d7a" rx="0.35"/>
<rect x="234.6" y="308.0" width="2.0" height="2.0" fill="#0d3d7a" rx="0.35"/>
<rect x="237.5" y="307.4" width="2.0" height="2.0" fill="#0d3d7a" rx="0.35"/>
<rect x="231.5" y="310.3" width="2.0" height="2.0" fill="#0d3d7a" rx="0.35"/>
<rect x="234.9" y="312.0" width="2.0" height="2.0" fill="#0d3d7a" rx="0.35"/>
<rect x="228.8" y="315.0" width="2.0" height="2.0" fill="#0d3d7a" rx="0.35"/>
<rect x="232.3" y="316.4" width="2.0" height="2.0" fill="#0d3d7a" rx="0.35"/>
<rect x="235.8" y="316.4" width="2.0" height="2.0" fill="#0d3d7a" rx="0.35"/>
<rect x="237.9" y="315.9" width="2.0" height="2.0" fill="#0d3d7a" rx="0.35"/>
<rect x="231.8" y="320.8" width="2.0" height="2.0" fill="#0d3d7a" rx="0.35"/>
<rect x="234.9" y="321.3" width="2.0" height="2.0" fill="#0d3d7a" rx="0.35"/>
<rect x="232.8" y="326.0" width="2.0" height="2.0" fill="#0d3d7a" rx="0.35"/>
<rect x="234.1" y="326.5" width="2.0" height="2.0" fill="#0d3d7a" rx="0.35"/>
<rect x="230.6" y="330.4" width="2.0" height="2.0" fill="#0d3d7a" rx="0.35"/>
<rect x="233.5" y="330.4" width="2.0" height="2.0" fill="#0d3d7a" rx="0.35"/>
<rect x="237.5" y="330.7" width="2.0" height="2.0" fill="#0d3d7a" rx="0.35"/>
<rect x="228.8" y="333.0" width="2.0" height="2.0" fill="#0d3d7a" rx="0.35"/>
<rect x="233.2" y="333.8" width="2.0" height="2.0" fill="#0d3d7a" rx="0.35"/>
<rect x="235.8" y="334.7" width="2.0" height="2.0" fill="#0d3d7a" rx="0.35"/>
<rect x="236.7" y="337.0" width="2.0" height="2.0" fill="#0d3d7a" rx="0.35"/>
<rect x="231.5" y="339.0" width="2.0" height="2.0" fill="#0d3d7a" rx="0.35"/>
<rect x="234.1" y="340.8" width="2.0" height="2.0" fill="#0d3d7a" rx="0.35"/>
<rect x="230.6" y="341.7" width="2.0" height="2.0" fill="#0d3d7a" rx="0.35"/>
<rect x="236.7" y="342.6" width="2.0" height="2.0" fill="#0d3d7a" rx="0.35"/>
<rect x="231.5" y="345.2" width="2.0" height="2.0" fill="#0d3d7a" rx="0.35"/>
<rect x="237.5" y="346.9" width="2.0" height="2.0" fill="#0d3d7a" rx="0.35"/>
<rect x="240.2" y="346.9" width="2.0" height="2.0" fill="#0d3d7a" rx="0.35"/>
<rect x="228.0" y="348.7" width="2.0" height="2.0" fill="#0d3d7a" rx="0.35"/>
<rect x="230.6" y="349.5" width="2.0" height="2.0" fill="#0d3d7a" rx="0.35"/>
<rect x="234.1" y="349.5" width="2.0" height="2.0" fill="#0d3d7a" rx="0.35"/>
<rect x="238.4" y="351.3" width="2.0" height="2.0" fill="#0d3d7a" rx="0.35"/>
<rect x="228.0" y="351.3" width="2.0" height="2.0" fill="#0d3d7a" rx="0.35"/>
<rect x="229.7" y="353.0" width="2.0" height="2.0" fill="#0d3d7a" rx="0.35"/>
<rect x="233.2" y="353.9" width="2.0" height="2.0" fill="#0d3d7a" rx="0.35"/>
<rect x="237.5" y="353.9" width="2.0" height="2.0" fill="#0d3d7a" rx="0.35"/>
<rect x="228.8" y="355.6" width="2.0" height="2.0" fill="#0d3d7a" rx="0.35"/>
<rect x="232.3" y="355.6" width="2.0" height="2.0" fill="#0d3d7a" rx="0.35"/>
<rect x="235.8" y="357.4" width="2.0" height="2.0" fill="#0d3d7a" rx="0.35"/>
<rect x="230.6" y="359.1" width="2.0" height="2.0" fill="#0d3d7a" rx="0.35"/>
<rect x="233.2" y="360.0" width="2.0" height="2.0" fill="#0d3d7a" rx="0.35"/>
<rect x="237.5" y="360.0" width="2.0" height="2.0" fill="#0d3d7a" rx="0.35"/>
<rect x="232.3" y="361.7" width="2.0" height="2.0" fill="#0d3d7a" rx="0.35"/>
<rect x="234.9" y="362.6" width="2.0" height="2.0" fill="#0d3d7a" rx="0.35"/>
<rect x="236.7" y="364.9" width="2.0" height="2.0" fill="#0d3d7a" rx="0.35"/>
<rect x="258.8" y="291.8" width="2.0" height="2.0" fill="#0b5e45" rx="0.35"/>
<rect x="258.8" y="299.9" width="2.0" height="2.0" fill="#0b5e45" rx="0.35"/>
<rect x="260.1" y="318.2" width="2.0" height="2.0" fill="#0b5e45" rx="0.35"/>
<rect x="257.8" y="321.3" width="2.0" height="2.0" fill="#0b5e45" rx="0.35"/>
<rect x="259.2" y="326.0" width="2.0" height="2.0" fill="#0b5e45" rx="0.35"/>
<rect x="254.8" y="333.8" width="2.0" height="2.0" fill="#0b5e45" rx="0.35"/>
<rect x="260.6" y="333.0" width="2.0" height="2.0" fill="#0b5e45" rx="0.35"/>
<rect x="257.8" y="335.6" width="2.0" height="2.0" fill="#0b5e45" rx="0.35"/>
<rect x="263.0" y="335.9" width="2.0" height="2.0" fill="#0b5e45" rx="0.35"/>
<rect x="258.8" y="340.0" width="2.0" height="2.0" fill="#0b5e45" rx="0.35"/>
<rect x="253.1" y="344.3" width="2.0" height="2.0" fill="#0b5e45" rx="0.35"/>
<rect x="255.7" y="344.6" width="2.0" height="2.0" fill="#0b5e45" rx="0.35"/>
<rect x="258.3" y="345.2" width="2.0" height="2.0" fill="#0b5e45" rx="0.35"/>
<rect x="260.9" y="344.6" width="2.0" height="2.0" fill="#0b5e45" rx="0.35"/>
<rect x="263.6" y="345.7" width="2.0" height="2.0" fill="#0b5e45" rx="0.35"/>
<rect x="254.0" y="347.0" width="2.0" height="2.0" fill="#0b5e45" rx="0.35"/>
<rect x="256.6" y="347.8" width="2.0" height="2.0" fill="#0b5e45" rx="0.35"/>
<rect x="260.1" y="348.1" width="2.0" height="2.0" fill="#0b5e45" rx="0.35"/>
<rect x="264.4" y="347.8" width="2.0" height="2.0" fill="#0b5e45" rx="0.35"/>
<rect x="254.8" y="351.3" width="2.0" height="2.0" fill="#0b5e45" rx="0.35"/>
<rect x="258.3" y="350.9" width="2.0" height="2.0" fill="#0b5e45" rx="0.35"/>
<rect x="261.8" y="351.3" width="2.0" height="2.0" fill="#0b5e45" rx="0.35"/>
<rect x="262.7" y="353.9" width="2.0" height="2.0" fill="#0b5e45" rx="0.35"/>
<rect x="258.3" y="359.1" width="2.0" height="2.0" fill="#0b5e45" rx="0.35"/>
<rect x="258.3" y="360.8" width="2.0" height="2.0" fill="#0b5e45" rx="0.35"/>
<rect x="255.7" y="363.8" width="2.0" height="2.0" fill="#0b5e45" rx="0.35"/>
<rect x="259.2" y="363.8" width="2.0" height="2.0" fill="#0b5e45" rx="0.35"/>
<rect x="261.8" y="364.3" width="2.0" height="2.0" fill="#0b5e45" rx="0.35"/>
<rect x="254.0" y="364.3" width="2.0" height="2.0" fill="#0b5e45" rx="0.35"/>
<rect x="284.35" y="326.05" width="1.9" height="1.9" fill="#7b72c8" rx="0.35"/>
<rect x="284.35" y="332.15" width="1.9" height="1.9" fill="#7b72c8" rx="0.35"/>
<rect x="284.35" y="340.85" width="1.9" height="1.9" fill="#7b72c8" rx="0.35"/>
<rect x="282.65" y="358.25" width="1.9" height="1.9" fill="#7b72c8" rx="0.35"/>
<rect x="286.65" y="358.65" width="1.9" height="1.9" fill="#7b72c8" rx="0.35"/>
<rect x="284.85" y="363.55" width="1.9" height="1.9" fill="#7b72c8" rx="0.35"/>
<rect x="286.15" y="365.25" width="1.9" height="1.9" fill="#7b72c8" rx="0.35"/>
<rect x="310.25" y="291.85" width="1.9" height="1.9" fill="#2a3545" rx="0.35"/>
<rect x="310.15" y="300.75" width="1.9" height="1.9" fill="#2a3545" rx="0.35"/>
<rect x="310.15" y="314.75" width="1.9" height="1.9" fill="#2a3545" rx="0.35"/>
<rect x="307.05" y="334.25" width="1.9" height="1.9" fill="#2a3545" rx="0.35"/>
<rect x="312.75" y="335.95" width="1.9" height="1.9" fill="#2a3545" rx="0.35"/>
<rect x="304.45" y="345.75" width="1.9" height="1.9" fill="#2a3545" rx="0.35"/>
<rect x="310.15" y="347.45" width="1.9" height="1.9" fill="#2a3545" rx="0.35"/>
<rect x="315.75" y="344.05" width="1.9" height="1.9" fill="#2a3545" rx="0.35"/>
<rect x="307.05" y="356.15" width="1.9" height="1.9" fill="#2a3545" rx="0.35"/>
<rect x="313.45" y="356.55" width="1.9" height="1.9" fill="#2a3545" rx="0.35"/>
<rect x="309.65" y="362.15" width="1.9" height="1.9" fill="#2a3545" rx="0.35"/>
<line x1="234.85" y1="327.4" x2="234.85" y2="336.0" stroke="#0d3d7a" stroke-width="0.9"/>
<line x1="231.45" y1="327.4" x2="238.25" y2="327.4" stroke="#0d3d7a" stroke-width="0.9"/>
<line x1="231.45" y1="336.0" x2="238.25" y2="336.0" stroke="#0d3d7a" stroke-width="0.9"/>
<line x1="260.1" y1="341.0" x2="260.1" y2="347.0" stroke="#0b5e45" stroke-width="0.9"/>
<line x1="256.70000000000005" y1="341.0" x2="263.5" y2="341.0" stroke="#0b5e45" stroke-width="0.9"/>
<line x1="256.70000000000005" y1="347.0" x2="263.5" y2="347.0" stroke="#0b5e45" stroke-width="0.9"/>
<line x1="285.7" y1="346.2" x2="285.7" y2="355.4" stroke="#7b72c8" stroke-width="0.9"/>
<line x1="281.7" y1="346.2" x2="289.7" y2="346.2" stroke="#7b72c8" stroke-width="0.9"/>
<line x1="281.7" y1="355.4" x2="289.7" y2="355.4" stroke="#7b72c8" stroke-width="0.9"/>
<line x1="311.2" y1="329.3" x2="311.2" y2="343.2" stroke="#2a3545" stroke-width="0.9"/>
<line x1="307.7" y1="329.3" x2="314.7" y2="329.3" stroke="#2a3545" stroke-width="0.9"/>
<line x1="307.7" y1="343.2" x2="314.7" y2="343.2" stroke="#2a3545" stroke-width="0.9"/>
<polyline points="233.8,264.0 233.8,259.3 260.4,259.3 260.4,264.0" fill="none" stroke="#333" stroke-width="1.2"/>
<polygon points="246.30,253.60 246.86,254.94 248.30,255.05 247.20,255.99 247.53,257.40 246.30,256.64 245.07,257.40 245.40,255.99 244.30,255.05 245.74,254.94" fill="#000"/>
<text transform="translate(238.45,377.20) rotate(-45)" font-size="8.6" fill="#222" stroke="#222" stroke-width="0.1" text-anchor="end" textLength="10.6" lengthAdjust="spacingAndGlyphs">WT</text>
<text transform="translate(263.70,377.20) rotate(-45)" font-size="8.6" fill="#222" stroke="#222" stroke-width="0.1" text-anchor="end" textLength="22.6" lengthAdjust="spacingAndGlyphs">Y640F</text>
<text transform="translate(289.30,377.20) rotate(-45)" font-size="8.6" fill="#222" stroke="#222" stroke-width="0.1" text-anchor="end" textLength="23.0" lengthAdjust="spacingAndGlyphs">D661Y</text>
<text transform="translate(314.80,377.20) rotate(-45)" font-size="8.6" fill="#222" stroke="#222" stroke-width="0.1" text-anchor="end" textLength="22.0" lengthAdjust="spacingAndGlyphs">N647I</text>
<text x="365.3" y="253.7" font-size="11.7" fill="#000" text-anchor="start" font-weight="bold">E</text>
<line x1="392.4" y1="255.2" x2="392.4" y2="366.9" stroke="#111" stroke-width="1"/>
<line x1="389.4" y1="259.5" x2="392.4" y2="259.5" stroke="#111" stroke-width="1"/>
<text x="386.9" y="262.7" font-size="9.0" fill="#222" stroke="#222" stroke-width="0.1" text-anchor="end">20</text>
<line x1="389.4" y1="286.2" x2="392.4" y2="286.2" stroke="#111" stroke-width="1"/>
<text x="386.9" y="289.4" font-size="9.0" fill="#222" stroke="#222" stroke-width="0.1" text-anchor="end">15</text>
<line x1="389.4" y1="312.9" x2="392.4" y2="312.9" stroke="#111" stroke-width="1"/>
<text x="386.9" y="316.09999999999997" font-size="9.0" fill="#222" stroke="#222" stroke-width="0.1" text-anchor="end">10</text>
<line x1="389.4" y1="339.7" x2="392.4" y2="339.7" stroke="#111" stroke-width="1"/>
<text x="386.9" y="342.9" font-size="9.0" fill="#222" stroke="#222" stroke-width="0.1" text-anchor="end">5</text>
<line x1="389.4" y1="366.5" x2="392.4" y2="366.5" stroke="#111" stroke-width="1"/>
<text x="386.9" y="369.7" font-size="9.0" fill="#222" stroke="#222" stroke-width="0.1" text-anchor="end">0</text>
<text transform="translate(372.60,328.50) rotate(-90)" font-size="8.6" fill="#222" stroke="#222" stroke-width="0.1" textLength="37.3" lengthAdjust="spacingAndGlyphs">HGB (g/dL)</text>
<line x1="391.9" y1="366.5" x2="502.4" y2="366.5" stroke="#111" stroke-width="1.1"/>
<line x1="410.1" y1="366.5" x2="410.1" y2="369.7" stroke="#111" stroke-width="1"/>
<line x1="434.6" y1="366.5" x2="434.6" y2="369.7" stroke="#111" stroke-width="1"/>
<line x1="460.0" y1="366.5" x2="460.0" y2="369.7" stroke="#111" stroke-width="1"/>
<line x1="484.5" y1="366.5" x2="484.5" y2="369.7" stroke="#111" stroke-width="1"/>
<rect x="402.70000000000005" y="299.3" width="14.8" height="66.80000000000001" fill="#88a9c5"/>
<rect x="427.20000000000005" y="299.3" width="14.8" height="66.80000000000001" fill="#80b5a5"/>
<rect x="452.6" y="308.7" width="14.8" height="57.400000000000034" fill="#c3c1e3"/>
<rect x="477.1" y="308.0" width="14.8" height="58.10000000000002" fill="#a4a9b2"/>
<rect x="408.3" y="278.6" width="2.0" height="2.0" fill="#0d3d7a" rx="0.35"/>
<rect x="409.5" y="282.0" width="2.0" height="2.0" fill="#0d3d7a" rx="0.35"/>
<rect x="408.3" y="284.7" width="2.0" height="2.0" fill="#0d3d7a" rx="0.35"/>
<rect x="406.6" y="286.4" width="2.0" height="2.0" fill="#0d3d7a" rx="0.35"/>
<rect x="410.9" y="286.4" width="2.0" height="2.0" fill="#0d3d7a" rx="0.35"/>
<rect x="413.5" y="288.2" width="2.0" height="2.0" fill="#0d3d7a" rx="0.35"/>
<rect x="416.2" y="289.6" width="2.0" height="2.0" fill="#0d3d7a" rx="0.35"/>
<rect x="402.2" y="289.6" width="2.0" height="2.0" fill="#0d3d7a" rx="0.35"/>
<rect x="404.0" y="290.8" width="2.0" height="2.0" fill="#0d3d7a" rx="0.35"/>
<rect x="407.5" y="291.6" width="2.0" height="2.0" fill="#0d3d7a" rx="0.35"/>
<rect x="410.1" y="292.5" width="2.0" height="2.0" fill="#0d3d7a" rx="0.35"/>
<rect x="412.7" y="291.6" width="2.0" height="2.0" fill="#0d3d7a" rx="0.35"/>
<rect x="414.4" y="290.8" width="2.0" height="2.0" fill="#0d3d7a" rx="0.35"/>
<rect x="417.0" y="290.3" width="2.0" height="2.0" fill="#0d3d7a" rx="0.35"/>
<rect x="400.8" y="289.8" width="2.0" height="2.0" fill="#0d3d7a" rx="0.35"/>
<rect x="405.6" y="289.2" width="2.0" height="2.0" fill="#0d3d7a" rx="0.35"/>
<rect x="408.8" y="289.5" width="2.0" height="2.0" fill="#0d3d7a" rx="0.35"/>
<rect x="411.4" y="290.0" width="2.0" height="2.0" fill="#0d3d7a" rx="0.35"/>
<rect x="415.0" y="288.4" width="2.0" height="2.0" fill="#0d3d7a" rx="0.35"/>
<rect x="403.5" y="291.8" width="2.0" height="2.0" fill="#0d3d7a" rx="0.35"/>
<rect x="406.2" y="293.2" width="2.0" height="2.0" fill="#0d3d7a" rx="0.35"/>
<rect x="412.0" y="293.6" width="2.0" height="2.0" fill="#0d3d7a" rx="0.35"/>
<rect x="408.3" y="295.1" width="2.0" height="2.0" fill="#0d3d7a" rx="0.35"/>
<rect x="410.9" y="296.9" width="2.0" height="2.0" fill="#0d3d7a" rx="0.35"/>
<rect x="406.0" y="296.0" width="2.0" height="2.0" fill="#0d3d7a" rx="0.35"/>
<rect x="409.2" y="299.5" width="2.0" height="2.0" fill="#0d3d7a" rx="0.35"/>
<rect x="407.5" y="302.1" width="2.0" height="2.0" fill="#0d3d7a" rx="0.35"/>
<rect x="410.1" y="303.8" width="2.0" height="2.0" fill="#0d3d7a" rx="0.35"/>
<rect x="408.3" y="306.5" width="2.0" height="2.0" fill="#0d3d7a" rx="0.35"/>
<rect x="409.2" y="309.1" width="2.0" height="2.0" fill="#0d3d7a" rx="0.35"/>
<rect x="407.5" y="311.7" width="2.0" height="2.0" fill="#0d3d7a" rx="0.35"/>
<rect x="408.3" y="315.2" width="2.0" height="2.0" fill="#0d3d7a" rx="0.35"/>
<rect x="409.2" y="318.7" width="2.0" height="2.0" fill="#0d3d7a" rx="0.35"/>
<rect x="408.3" y="322.1" width="2.0" height="2.0" fill="#0d3d7a" rx="0.35"/>
<rect x="409.2" y="325.6" width="2.0" height="2.0" fill="#0d3d7a" rx="0.35"/>
<rect x="408.8" y="329.0" width="2.0" height="2.0" fill="#0d3d7a" rx="0.35"/>
<rect x="433.8" y="282.1" width="2.0" height="2.0" fill="#0b5e45" rx="0.35"/>
<rect x="432.5" y="283.8" width="2.0" height="2.0" fill="#0b5e45" rx="0.35"/>
<rect x="436.8" y="286.4" width="2.0" height="2.0" fill="#0b5e45" rx="0.35"/>
<rect x="429.0" y="288.2" width="2.0" height="2.0" fill="#0b5e45" rx="0.35"/>
<rect x="431.6" y="289.0" width="2.0" height="2.0" fill="#0b5e45" rx="0.35"/>
<rect x="434.2" y="288.2" width="2.0" height="2.0" fill="#0b5e45" rx="0.35"/>
<rect x="437.7" y="289.6" width="2.0" height="2.0" fill="#0b5e45" rx="0.35"/>
<rect x="427.2" y="291.6" width="2.0" height="2.0" fill="#0b5e45" rx="0.35"/>
<rect x="430.7" y="291.6" width="2.0" height="2.0" fill="#0b5e45" rx="0.35"/>
<rect x="433.3" y="290.8" width="2.0" height="2.0" fill="#0b5e45" rx="0.35"/>
<rect x="435.9" y="291.6" width="2.0" height="2.0" fill="#0b5e45" rx="0.35"/>
<rect x="438.6" y="292.5" width="2.0" height="2.0" fill="#0b5e45" rx="0.35"/>
<rect x="429.8" y="293.4" width="2.0" height="2.0" fill="#0b5e45" rx="0.35"/>
<rect x="432.5" y="294.3" width="2.0" height="2.0" fill="#0b5e45" rx="0.35"/>
<rect x="435.1" y="293.7" width="2.0" height="2.0" fill="#0b5e45" rx="0.35"/>
<rect x="440.3" y="295.1" width="2.0" height="2.0" fill="#0b5e45" rx="0.35"/>
<rect x="431.6" y="296.9" width="2.0" height="2.0" fill="#0b5e45" rx="0.35"/>
<rect x="434.2" y="296.9" width="2.0" height="2.0" fill="#0b5e45" rx="0.35"/>
<rect x="433.3" y="299.5" width="2.0" height="2.0" fill="#0b5e45" rx="0.35"/>
<rect x="435.1" y="301.2" width="2.0" height="2.0" fill="#0b5e45" rx="0.35"/>
<rect x="432.5" y="311.7" width="2.0" height="2.0" fill="#0b5e45" rx="0.35"/>
<rect x="434.2" y="313.4" width="2.0" height="2.0" fill="#0b5e45" rx="0.35"/>
<rect x="432.5" y="316.0" width="2.0" height="2.0" fill="#0b5e45" rx="0.35"/>
<rect x="435.1" y="317.8" width="2.0" height="2.0" fill="#0b5e45" rx="0.35"/>
<rect x="433.3" y="320.4" width="2.0" height="2.0" fill="#0b5e45" rx="0.35"/>
<rect x="434.2" y="322.1" width="2.0" height="2.0" fill="#0b5e45" rx="0.35"/>
<rect x="428.5" y="290.0" width="2.0" height="2.0" fill="#0b5e45" rx="0.35"/>
<rect x="437.0" y="288.0" width="2.0" height="2.0" fill="#0b5e45" rx="0.35"/>
<polygon points="458.20,289.43 460.80,289.43 459.50,287.17" fill="#7b72c8"/>
<polygon points="458.20,293.73 460.80,293.73 459.50,291.47" fill="#7b72c8"/>
<polygon points="458.20,298.63 460.80,298.63 459.50,296.37" fill="#7b72c8"/>
<polygon points="459.50,306.83 462.10,306.83 460.80,304.57" fill="#7b72c8"/>
<polygon points="457.30,308.63 459.90,308.63 458.60,306.37" fill="#7b72c8"/>
<polygon points="458.50,317.83 461.10,317.83 459.80,315.57" fill="#7b72c8"/>
<polygon points="456.40,321.63 459.00,321.63 457.70,319.37" fill="#7b72c8"/>
<polygon points="460.20,321.63 462.80,321.63 461.50,319.37" fill="#7b72c8"/>
<polygon points="458.20,326.03 460.80,326.03 459.50,323.77" fill="#7b72c8"/>
<polygon points="480.40,290.08 483.20,290.08 481.80,292.52" fill="#2a3545"/>
<polygon points="486.30,289.38 489.10,289.38 487.70,291.82" fill="#2a3545"/>
<polygon points="480.40,294.58 483.20,294.58 481.80,297.02" fill="#2a3545"/>
<polygon points="485.60,295.28 488.40,295.28 487.00,297.72" fill="#2a3545"/>
<polygon points="483.30,298.78 486.10,298.78 484.70,301.22" fill="#2a3545"/>
<polygon points="482.40,313.18 485.20,313.18 483.80,315.62" fill="#2a3545"/>
<polygon points="483.30,316.68 486.10,316.68 484.70,319.12" fill="#2a3545"/>
<polygon points="477.60,318.98 480.40,318.98 479.00,321.42" fill="#2a3545"/>
<polygon points="483.30,320.18 486.10,320.18 484.70,322.62" fill="#2a3545"/>
<polygon points="488.50,320.68 491.30,320.68 489.90,323.12" fill="#2a3545"/>
<line x1="410.1" y1="296.5" x2="410.1" y2="302.0" stroke="#0d3d7a" stroke-width="0.9"/>
<line x1="406.6" y1="296.5" x2="413.6" y2="296.5" stroke="#0d3d7a" stroke-width="0.9"/>
<line x1="406.6" y1="302.0" x2="413.6" y2="302.0" stroke="#0d3d7a" stroke-width="0.9"/>
<line x1="434.6" y1="296.5" x2="434.6" y2="302.0" stroke="#0b5e45" stroke-width="0.9"/>
<line x1="431.1" y1="296.5" x2="438.1" y2="296.5" stroke="#0b5e45" stroke-width="0.9"/>
<line x1="431.1" y1="302.0" x2="438.1" y2="302.0" stroke="#0b5e45" stroke-width="0.9"/>
<line x1="460.0" y1="303.1" x2="460.0" y2="311.8" stroke="#7b72c8" stroke-width="0.9"/>
<line x1="456.1" y1="303.1" x2="463.9" y2="303.1" stroke="#7b72c8" stroke-width="0.9"/>
<line x1="456.1" y1="311.8" x2="463.9" y2="311.8" stroke="#7b72c8" stroke-width="0.9"/>
<line x1="484.5" y1="303.4" x2="484.5" y2="311.5" stroke="#2a3545" stroke-width="0.9"/>
<line x1="480.5" y1="303.4" x2="488.5" y2="303.4" stroke="#2a3545" stroke-width="0.9"/>
<line x1="480.5" y1="311.5" x2="488.5" y2="311.5" stroke="#2a3545" stroke-width="0.9"/>
<polyline points="410.5,272.4 410.5,266.4 487.3,266.4 487.3,272.4" fill="none" stroke="#333" stroke-width="1.2"/>
<polygon points="446.90,259.90 447.46,261.24 448.90,261.35 447.80,262.29 448.13,263.70 446.90,262.94 445.67,263.70 446.00,262.29 444.90,261.35 446.34,261.24" fill="#000"/>
<text transform="translate(413.70,377.20) rotate(-45)" font-size="8.6" fill="#222" stroke="#222" stroke-width="0.1" text-anchor="end" textLength="10.6" lengthAdjust="spacingAndGlyphs">WT</text>
<text transform="translate(438.20,377.20) rotate(-45)" font-size="8.6" fill="#222" stroke="#222" stroke-width="0.1" text-anchor="end" textLength="22.6" lengthAdjust="spacingAndGlyphs">Y640F</text>
<text transform="translate(463.60,377.20) rotate(-45)" font-size="8.6" fill="#222" stroke="#222" stroke-width="0.1" text-anchor="end" textLength="23.0" lengthAdjust="spacingAndGlyphs">D661Y</text>
<text transform="translate(488.10,377.20) rotate(-45)" font-size="8.6" fill="#222" stroke="#222" stroke-width="0.1" text-anchor="end" textLength="22.0" lengthAdjust="spacingAndGlyphs">N647I</text>
<rect x="0" y="0" width="1" height="402" fill="#000"/>
<rect x="0" y="0" width="520" height="1" fill="#000"/>
<rect x="518.8" y="0" width="1.2" height="402" fill="#000"/>
<rect x="0" y="400.7" width="520" height="1.3" fill="#000"/>
</svg></body></html>
